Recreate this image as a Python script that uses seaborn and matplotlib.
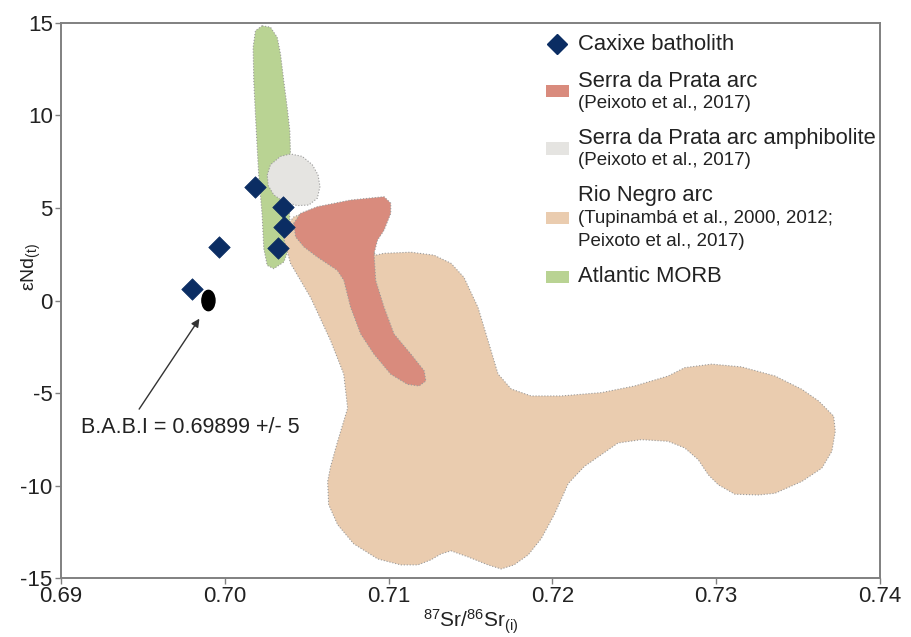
import numpy as np
import pandas as pd
import matplotlib
matplotlib.use('Agg')
import matplotlib.pyplot as plt
import seaborn as sns
from matplotlib.patches import Polygon, Ellipse, Rectangle
from matplotlib.lines import Line2D
from matplotlib.offsetbox import (AnchoredOffsetbox, DrawingArea, HPacker,
                                  TextArea, VPacker)

# ---- data ----
# Caxixe batholith samples
caxixe_sr = [0.69802, 0.69967, 0.70187, 0.70353, 0.70359, 0.70322]
caxixe_nd = [0.60, 2.88, 6.14, 5.05, 3.97, 2.83]

# B.A.B.I reference (ellipse)
babi_sr, babi_nd = 0.69900, 0.0
babi_w, babi_h = 0.0008, 1.1

# Atlantic MORB field outline
morb_sr = [0.70228, 0.70279, 0.70320, 0.70340, 0.70360, 0.70381, 0.70397, 0.70401,
           0.70395, 0.70391, 0.70401, 0.70391, 0.70360, 0.70299, 0.70259, 0.70238,
           0.70228, 0.70207, 0.70198, 0.70187, 0.70177, 0.70173, 0.70187]
morb_nd = [14.85, 14.77, 14.22, 13.32, 11.86, 10.42, 9.15, 7.88,
           6.52, 5.34, 3.71, 2.81, 2.08, 1.72, 1.90, 2.81,
           4.62, 6.79, 8.24, 10.05, 11.86, 13.68, 14.58]

# Rio Negro arc field outline
rio_sr = [0.70359, 0.70377, 0.70420, 0.70524, 0.70707, 0.70860, 0.70922, 0.70971,
          0.71136, 0.71277, 0.71381, 0.71460, 0.71546, 0.71607, 0.71668, 0.71748,
          0.71870, 0.72054, 0.72299, 0.72502, 0.72707, 0.72808, 0.72972, 0.73155,
          0.73359, 0.73523, 0.73625, 0.73717, 0.73727, 0.73706, 0.73645, 0.73523,
          0.73359, 0.73258, 0.73114, 0.73013, 0.72952, 0.72890, 0.72808, 0.72707,
          0.72543, 0.72401, 0.72299, 0.72195, 0.72097, 0.72011, 0.71931, 0.71852,
          0.71766, 0.71687, 0.71607, 0.71485, 0.71381, 0.71319, 0.71258, 0.71179,
          0.71075, 0.70934, 0.70787, 0.70689, 0.70634, 0.70628, 0.70646, 0.70689,
          0.70750, 0.70726, 0.70646, 0.70524, 0.70401]
rio_nd = [3.37, 4.02, 4.51, 4.89, 4.62, 3.26, 2.45, 2.55,
          2.61, 2.45, 2.01, 1.25, -0.38, -2.17, -3.97, -4.78,
          -5.16, -5.16, -4.98, -4.62, -4.08, -3.63, -3.44, -3.59,
          -4.08, -4.80, -5.43, -6.25, -7.07, -8.15, -9.06, -9.78,
          -10.42, -10.51, -10.47, -9.96, -9.42, -8.60, -7.97, -7.61,
          -7.52, -7.70, -8.33, -8.97, -9.89, -11.58, -12.88, -13.75,
          -14.29, -14.51, -14.29, -13.86, -13.53, -13.70, -14.02, -14.29,
          -14.29, -13.97, -13.15, -12.12, -11.03, -9.78, -8.97, -7.61,
          -5.82, -3.97, -2.17, 0.16, 2.01]

# Serra da Prata arc field outline
sp_sr = [0.70421, 0.70462, 0.70565, 0.70768, 0.70972, 0.71013, 0.71013, 0.70972,
         0.70932, 0.70911, 0.70921, 0.70972, 0.71033, 0.71136, 0.71217, 0.71227,
         0.71186, 0.71115, 0.71013, 0.70911, 0.70830, 0.70768, 0.70727, 0.70687,
         0.70565, 0.70483, 0.70432]
sp_nd = [4.17, 4.71, 5.07, 5.43, 5.61, 5.26, 4.71, 3.80,
         3.26, 2.54, 1.09, -0.36, -1.81, -2.90, -3.80, -4.35,
         -4.62, -4.53, -3.98, -2.90, -1.81, -0.36, 1.09, 1.63,
         2.35, 2.90, 3.44]

# Serra da Prata arc amphibolite field outline
amph_sr = [0.70259, 0.70279, 0.70340, 0.70401, 0.70473, 0.70534, 0.70569, 0.70581,
           0.70565, 0.70513, 0.70442, 0.70360, 0.70299, 0.70265]
amph_nd = [6.79, 7.34, 7.79, 7.92, 7.79, 7.34, 6.79, 6.16,
           5.53, 5.16, 5.13, 5.34, 5.71, 6.21]

x_ticks = [0.69, 0.70, 0.71, 0.72, 0.73, 0.74]
x_tick_labels = ['0.69', '0.70', '0.71', '0.72', '0.73', '0.74']
y_ticks = [-15, -10, -5, 0, 5, 10, 15]

# legend: (main line, reference lines)
legend_main = ['Caxixe batholith', 'Serra da Prata arc', 'Serra da Prata arc amphibolite',
               'Rio Negro arc', 'Atlantic MORB']
legend_refs = ['', '(Peixoto et al., 2017)', '(Peixoto et al., 2017)',
               '(Tupinambá et al., 2000, 2012;\nPeixoto et al., 2017)', '']

# colours
c_navy = '#0B2D63'
c_red = '#D98B7D'
c_gray = '#E5E4E1'
c_tan = '#EACCAF'
c_green = '#B9D393'
c_edge = '#9A9A9A'
c_text = '#222222'

sns.set_theme(style='white')
plt.rcParams['font.family'] = ['Liberation Sans', 'DejaVu Sans']
plt.rcParams['mathtext.default'] = 'regular'
plt.rcParams['axes.unicode_minus'] = False

fig = plt.figure(figsize=(9.12, 6.37), dpi=100)
ax = fig.add_axes([0.0669, 0.0926, 0.8980, 0.8713])

# fields (drawn back to front)
fields = [(morb_sr, morb_nd, c_green),
          (rio_sr, rio_nd, c_tan),
          (sp_sr, sp_nd, c_red),
          (amph_sr, amph_nd, c_gray)]
for xs, ys, col in fields:
    poly = Polygon(np.column_stack([xs, ys]), closed=True, facecolor=col,
                   edgecolor=c_edge, linestyle=':', linewidth=0.8, joinstyle='round')
    ax.add_patch(poly)

ax.add_patch(Ellipse((babi_sr, babi_nd), babi_w, babi_h, facecolor='black', edgecolor='black'))

df = pd.DataFrame({'sr': caxixe_sr, 'nd': caxixe_nd})
sns.scatterplot(data=df, x='sr', y='nd', marker='D', s=120, color=c_navy,
                edgecolor=c_navy, linewidth=0.5, ax=ax, zorder=5, legend=False)

# B.A.B.I annotation
ax.annotate('', xy=(0.69845, -0.98), xytext=(0.69477, -5.87),
            arrowprops=dict(arrowstyle='-|>', color='#333333', lw=1.0,
                            mutation_scale=12, shrinkA=0, shrinkB=0))
ax.text(0.69121, -6.85, 'B.A.B.I = 0.69899 +/- 5', fontsize=15.5, color=c_text,
        ha='left', va='center')

ax.set_xlim(0.69, 0.74)
ax.set_ylim(-15, 15)
ax.set_xticks(x_ticks)
ax.set_xticklabels(x_tick_labels)
ax.set_yticks(y_ticks)
ax.tick_params(axis='both', direction='out', length=4, width=1, color='#808080',
               labelsize=16, labelcolor=c_text, pad=2, left=True, bottom=True)
for sp in ax.spines.values():
    sp.set_color('#808080')
    sp.set_linewidth(1.4)

ax.set_xlabel(r'$^{87}$Sr/$^{86}$Sr$_{(i)}$', fontsize=15, color=c_text, labelpad=0)
ax.set_ylabel(r'εNd$_{(t)}$', fontsize=14, color=c_text)
ax.yaxis.set_label_coords(-0.022, 0.56)

# legend built from offset boxes so the reference lines can be smaller
handle_colors = [None, c_red, c_gray, c_tan, c_green]
rows = []
for main, ref, col in zip(legend_main, legend_refs, handle_colors):
    da = DrawingArea(16.6, 9, 0, 0)
    if col is None:
        da.add_artist(Line2D([8.3], [4.5], marker='D', markersize=10.5, color=c_navy,
                             markeredgecolor=c_navy, linestyle='none'))
    else:
        da.add_artist(Rectangle((0, 0), 16.6, 9, facecolor=col, edgecolor='none'))
    lines = [TextArea(main, textprops=dict(size=15.8, color=c_text))]
    if ref:
        lines.append(TextArea(ref, textprops=dict(size=13.5, color=c_text, linespacing=1.5)))
    block = VPacker(children=lines, align='left', pad=0, sep=2.5)
    rows.append(HPacker(children=[da, block], align='center', pad=0, sep=6.5))
legend_box = VPacker(children=rows, align='left', pad=0, sep=11.5)
anchored = AnchoredOffsetbox(loc='upper left', child=legend_box, pad=0, borderpad=0,
                             frameon=False, bbox_to_anchor=(0.592, 0.981),
                             bbox_transform=ax.transAxes)
ax.add_artist(anchored)

fig.savefig('out.png', dpi=100)
